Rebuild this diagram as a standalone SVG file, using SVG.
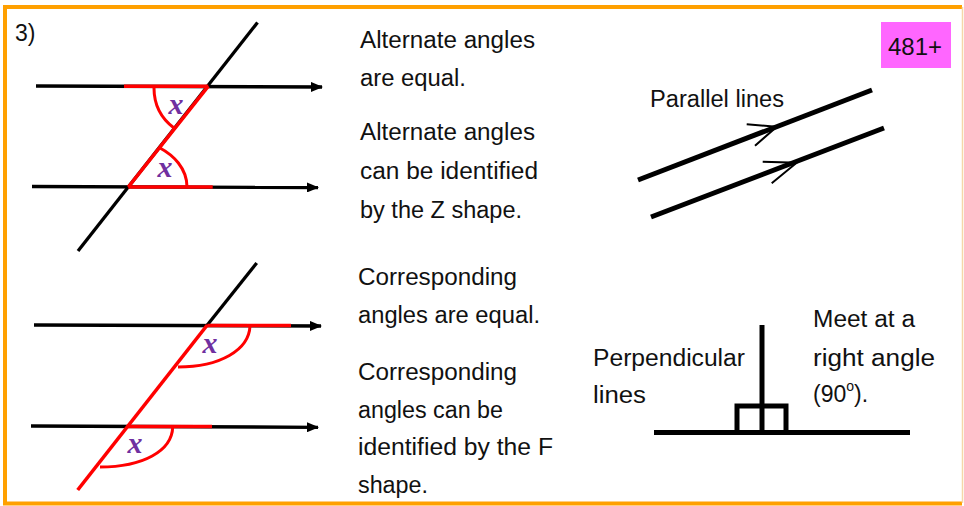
<svg xmlns="http://www.w3.org/2000/svg" width="964" height="506" viewBox="0 0 964 506">
<defs>
<marker id="ah" markerWidth="12" markerHeight="10" refX="11" refY="5" orient="auto" markerUnits="userSpaceOnUse">
<path d="M0,0 L12,5 L0,10 Z" fill="#000"/>
</marker>
<style>
.t{font-family:"Liberation Sans",Arial,sans-serif;font-size:23px;fill:#111}
.bl{stroke:#000;stroke-width:3.3;fill:none}
.rd{stroke:#FF0000;stroke-width:3.6;fill:none;stroke-linecap:butt}
.arc{stroke:#FF0000;stroke-width:3;fill:none}
.x{font-family:"Liberation Serif","DejaVu Serif",serif;font-style:italic;font-weight:bold;font-size:30px;fill:#7030A0;text-anchor:middle}
.thick{stroke:#000;stroke-width:5;fill:none}
.thin{stroke:#000;stroke-width:2;fill:none}
</style>
</defs>
<rect x="0" y="0" width="964" height="506" fill="#fff"/>
<g id="border">
<line x1="3" y1="7" x2="962" y2="7" stroke="#FFA000" stroke-width="4"/>
<line x1="5" y1="5" x2="5" y2="505" stroke="#FFA000" stroke-width="4"/>
<line x1="3" y1="503.5" x2="962" y2="503.5" stroke="#FFA000" stroke-width="4"/>
<line x1="962.5" y1="7" x2="962.5" y2="503" stroke="#F5D7A8" stroke-width="1.5"/>
</g>
<text class="t" x="15" y="41">3)</text>
<g id="alternate-diagram">
<line class="bl" x1="36" y1="86" x2="322" y2="87" marker-end="url(#ah)"/>
<line class="bl" x1="32" y1="186.5" x2="318" y2="187.5" marker-end="url(#ah)"/>
<line class="bl" x1="78" y1="251" x2="257.5" y2="22.5"/>
<line class="rd" x1="124" y1="86.2" x2="208.3" y2="86.2"/>
<line class="rd" x1="128.3" y1="187" x2="212.7" y2="187"/>
<line class="rd" x1="128.3" y1="187" x2="208.3" y2="86.2"/>
<path class="arc" d="M154,88 C154,105 162,119 174,128"/>
<path class="arc" d="M160,148 C173,155 187,168 187,187"/>
<text class="x" x="176" y="114">x</text>
<text class="x" x="165" y="177">x</text>
</g>
<g id="alternate-text">
<text class="t" x="360" y="48" textLength="175" lengthAdjust="spacingAndGlyphs">Alternate angles</text>
<text class="t" x="360" y="86" textLength="106" lengthAdjust="spacingAndGlyphs">are equal.</text>
<text class="t" x="360" y="140" textLength="175" lengthAdjust="spacingAndGlyphs">Alternate angles</text>
<text class="t" x="360" y="179" textLength="178" lengthAdjust="spacingAndGlyphs">can be identified</text>
<text class="t" x="360" y="218" textLength="162" lengthAdjust="spacingAndGlyphs">by the Z shape.</text>
</g>
<g id="corresponding-diagram">
<line class="bl" x1="34" y1="325" x2="321" y2="326" marker-end="url(#ah)"/>
<line class="bl" x1="31" y1="426" x2="318" y2="427.3" marker-end="url(#ah)"/>
<line class="bl" x1="207.3" y1="325" x2="256.7" y2="263"/>
<line class="rd" x1="207.3" y1="325.5" x2="291" y2="325.5"/>
<line class="rd" x1="126.7" y1="426.5" x2="212" y2="426.5"/>
<line class="rd" x1="77.7" y1="490" x2="207.3" y2="325"/>
<path class="arc" d="M250,326 C249,350 220,367 178,367"/>
<path class="arc" d="M172.7,427 C172,451 143,467 100,467"/>
<text class="x" x="210" y="353">x</text>
<text class="x" x="135" y="453">x</text>
</g>
<g id="corresponding-text">
<text class="t" x="358" y="285" textLength="159" lengthAdjust="spacingAndGlyphs">Corresponding</text>
<text class="t" x="358" y="323" textLength="182" lengthAdjust="spacingAndGlyphs">angles are equal.</text>
<text class="t" x="358" y="380" textLength="159" lengthAdjust="spacingAndGlyphs">Corresponding</text>
<text class="t" x="358" y="418" textLength="145" lengthAdjust="spacingAndGlyphs">angles can be</text>
<text class="t" x="358" y="455" textLength="195" lengthAdjust="spacingAndGlyphs">identified by the F</text>
<text class="t" x="358" y="493" textLength="70" lengthAdjust="spacingAndGlyphs">shape.</text>
</g>
<g id="badge">
<rect x="881" y="22" width="70" height="46" fill="#FF66FF"/>
<text class="t" x="888" y="55" textLength="54" lengthAdjust="spacingAndGlyphs">481+</text>
</g>
<g id="parallel">
<text class="t" x="650" y="107" textLength="134" lengthAdjust="spacingAndGlyphs">Parallel lines</text>
<line class="thick" x1="638" y1="180" x2="872" y2="90"/>
<line class="thick" x1="651" y1="217" x2="884" y2="128"/>
<polyline class="thin" points="746.7,124.3 776.7,126.7 755,145.7"/>
<polyline class="thin" points="762.7,161.7 796.7,162.7 771.7,183.3"/>
</g>
<g id="perpendicular">
<line class="thick" x1="762" y1="325" x2="762" y2="433"/>
<line class="thick" x1="654" y1="432.5" x2="910" y2="432.5"/>
<polyline class="thick" points="737,432 737,406 786,406 786,432"/>
<text class="t" x="593" y="366" textLength="152" lengthAdjust="spacingAndGlyphs">Perpendicular</text>
<text class="t" x="593" y="403" textLength="53" lengthAdjust="spacingAndGlyphs">lines</text>
<text class="t" x="813" y="327" textLength="102" lengthAdjust="spacingAndGlyphs">Meet at a</text>
<text class="t" x="813" y="366" textLength="122" lengthAdjust="spacingAndGlyphs">right angle</text>
<text class="t" x="813" y="402">(90<tspan font-size="14" dy="-11">o</tspan><tspan dy="11">).</tspan></text>
</g>
</svg>
